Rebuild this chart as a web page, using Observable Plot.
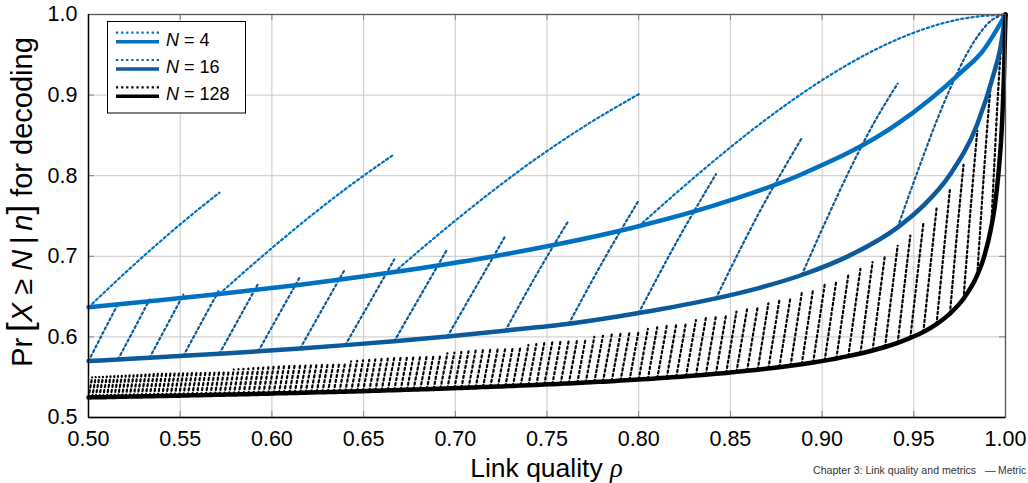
<!DOCTYPE html>
<html>
<head>
<meta charset="utf-8">
<script src="https://cdn.jsdelivr.net/npm/d3@7"></script>
<script src="https://cdn.jsdelivr.net/npm/@observablehq/plot@0.6"></script>
<style>
  html, body { margin: 0; padding: 0; background: #fff; overflow: hidden; }
  #chart { width: 1028px; height: 483px; overflow: hidden; }
</style>
</head>
<body>
<div id="chart"></div>
<script>
// Axis ticks
const xTicks = [0.50, 0.55, 0.60, 0.65, 0.70, 0.75, 0.80, 0.85, 0.90, 0.95, 1.00];
const yTicks = [0.5, 0.6, 0.7, 0.8, 0.9, 1.0];

// Pr[X >= N | n] with n = ceil(N / rho) transmissions.
// Each dotted segment runs between two consecutive boundaries rho = N/n and N/(n-1);
// its first value lies on the smooth (solid) curve.

// ---------- N = 4 ----------
const rhoN4 = [0.5, 0.5714, 0.6667, 0.8, 1.0];
const startN4 = [0.6367, 0.6533, 0.6804, 0.7373];
const endN4 = [0.7790, 0.8267, 0.9011, 1.0];
const innerN4Seg = [0, 0, 0, 1, 1, 1, 1, 2, 2, 2, 3, 3, 3, 3, 3, 3, 3];
const innerN4Rho = [0.52, 0.54, 0.56, 0.585, 0.60, 0.62, 0.64, 0.70, 0.7333, 0.7667, 0.825, 0.85, 0.875, 0.90, 0.925, 0.95, 0.975];
const innerN4Pr = [0.6795, 0.7202, 0.7584, 0.6808, 0.7102, 0.7479, 0.7833, 0.7443, 0.8034, 0.8560, 0.7875, 0.8352, 0.8793, 0.9185, 0.9517, 0.9774, 0.9941];
const curveN4Rho = [0.5333, 0.6154, 0.7273, 0.8421, 0.8889, 0.9412, 0.9756, 0.9877, 1.0];
const curveN4Pr = [0.6443, 0.6647, 0.7026, 0.7638, 0.8018, 0.8645, 0.9280, 0.9550, 1.0];

// ---------- N = 16 ----------
const rhoN16 = [0.5, 0.5161, 0.5333, 0.5517, 0.5714, 0.5926, 0.6154, 0.64, 0.6667, 0.6957, 0.7273, 0.7619, 0.8, 0.8421, 0.8889, 0.9412, 1.0];
const startN16 = [0.5700, 0.5720, 0.5741, 0.5765, 0.5792, 0.5822, 0.5857, 0.5898, 0.5946, 0.6005, 0.6078, 0.6163, 0.6296, 0.6478, 0.6768, 0.7359];
const endN16 = [0.6410, 0.6463, 0.6523, 0.6589, 0.6664, 0.6749, 0.6847, 0.6960, 0.7093, 0.7253, 0.7448, 0.7693, 0.8018, 0.8467, 0.9143, 1.0];
const innerN16Seg = [0, 10, 11, 12, 13, 14, 14, 14, 15, 15, 15, 15, 15, 15, 15];
const innerN16Rho = [0.5081, 0.7446, 0.7810, 0.8211, 0.8655, 0.9020, 0.9150, 0.9281, 0.9485, 0.9559, 0.9632, 0.9706, 0.9779, 0.9853, 0.9926];
const innerN16Pr = [0.6060, 0.6785, 0.6958, 0.7195, 0.7534, 0.7436, 0.8070, 0.8648, 0.7828, 0.8288, 0.8723, 0.9121, 0.9468, 0.9746, 0.9932];
const curveN16Rho = [0.8649, 0.9143, 0.9552, 0.9697, 0.9846, 0.9938, 0.9969, 1.0];
const curveN16Pr = [0.6603, 0.7002, 0.7628, 0.8013, 0.8639, 0.9279, 0.9550, 1.0];

// ---------- N = 128 ----------
const rhoN128 = [
  0.5000, 0.5020, 0.5039, 0.5059, 0.5079, 0.5100, 0.5120, 0.5141, 0.5161, 0.5182,
  0.5203, 0.5224, 0.5246, 0.5267, 0.5289, 0.5311, 0.5333, 0.5356, 0.5378, 0.5401,
  0.5424, 0.5447, 0.5470, 0.5494, 0.5517, 0.5541, 0.5565, 0.5590, 0.5614, 0.5639,
  0.5664, 0.5689, 0.5714, 0.5740, 0.5766, 0.5792, 0.5818, 0.5845, 0.5872, 0.5899,
  0.5926, 0.5953, 0.5981, 0.6009, 0.6038, 0.6066, 0.6095, 0.6124, 0.6154, 0.6184,
  0.6214, 0.6244, 0.6275, 0.6305, 0.6337, 0.6368, 0.6400, 0.6432, 0.6465, 0.6497,
  0.6531, 0.6564, 0.6598, 0.6632, 0.6667, 0.6702, 0.6737, 0.6772, 0.6809, 0.6845,
  0.6882, 0.6919, 0.6957, 0.6995, 0.7033, 0.7072, 0.7111, 0.7151, 0.7191, 0.7232,
  0.7273, 0.7314, 0.7356, 0.7399, 0.7442, 0.7485, 0.7529, 0.7574, 0.7619, 0.7665,
  0.7711, 0.7758, 0.7805, 0.7853, 0.7901, 0.7950, 0.8000, 0.8050, 0.8101, 0.8153,
  0.8205, 0.8258, 0.8312, 0.8366, 0.8421, 0.8477, 0.8533, 0.8591, 0.8649, 0.8707,
  0.8767, 0.8828, 0.8889, 0.8951, 0.9014, 0.9078, 0.9143, 0.9209, 0.9275, 0.9343,
  0.9412, 0.9481, 0.9552, 0.9624, 0.9697, 0.9771, 0.9846, 0.9922, 1.0000
];
const startN128 = [
  0.5249, 0.5250, 0.5251, 0.5252, 0.5252, 0.5253, 0.5254, 0.5255, 0.5256, 0.5257,
  0.5258, 0.5259, 0.5260, 0.5261, 0.5262, 0.5263, 0.5264, 0.5265, 0.5266, 0.5267,
  0.5268, 0.5269, 0.5270, 0.5271, 0.5273, 0.5274, 0.5275, 0.5276, 0.5277, 0.5278,
  0.5280, 0.5281, 0.5282, 0.5283, 0.5285, 0.5286, 0.5287, 0.5289, 0.5290, 0.5292,
  0.5293, 0.5295, 0.5296, 0.5298, 0.5300, 0.5301, 0.5303, 0.5304, 0.5306, 0.5308,
  0.5310, 0.5312, 0.5313, 0.5315, 0.5317, 0.5319, 0.5321, 0.5323, 0.5325, 0.5327,
  0.5330, 0.5332, 0.5334, 0.5337, 0.5339, 0.5341, 0.5344, 0.5346, 0.5349, 0.5352,
  0.5355, 0.5358, 0.5361, 0.5364, 0.5367, 0.5370, 0.5373, 0.5377, 0.5380, 0.5384,
  0.5388, 0.5392, 0.5396, 0.5400, 0.5404, 0.5409, 0.5413, 0.5418, 0.5423, 0.5428,
  0.5434, 0.5439, 0.5445, 0.5451, 0.5458, 0.5464, 0.5471, 0.5478, 0.5486, 0.5494,
  0.5503, 0.5511, 0.5521, 0.5531, 0.5542, 0.5553, 0.5566, 0.5579, 0.5593, 0.5608,
  0.5624, 0.5642, 0.5661, 0.5682, 0.5706, 0.5732, 0.5761, 0.5794, 0.5831, 0.5875,
  0.5926, 0.5988, 0.6060, 0.6158, 0.6289, 0.6473, 0.6766, 0.7357
];
const endN128 = [
  0.5498, 0.5500, 0.5503, 0.5505, 0.5508, 0.5510, 0.5513, 0.5515, 0.5518, 0.5520,
  0.5522, 0.5524, 0.5527, 0.5530, 0.5533, 0.5536, 0.5539, 0.5542, 0.5545, 0.5548,
  0.5551, 0.5554, 0.5557, 0.5560, 0.5563, 0.5566, 0.5569, 0.5572, 0.5576, 0.5579,
  0.5582, 0.5585, 0.5588, 0.5592, 0.5596, 0.5600, 0.5604, 0.5608, 0.5612, 0.5616,
  0.5620, 0.5624, 0.5628, 0.5632, 0.5636, 0.5641, 0.5646, 0.5651, 0.5656, 0.5661,
  0.5666, 0.5671, 0.5676, 0.5681, 0.5686, 0.5691, 0.5696, 0.5702, 0.5708, 0.5714,
  0.5720, 0.5726, 0.5732, 0.5739, 0.5746, 0.5753, 0.5760, 0.5767, 0.5774, 0.5781,
  0.5789, 0.5797, 0.5805, 0.5813, 0.5821, 0.5830, 0.5839, 0.5848, 0.5858, 0.5868,
  0.5878, 0.5889, 0.5900, 0.5911, 0.5923, 0.5935, 0.5947, 0.5960, 0.5973, 0.5986,
  0.6000, 0.6014, 0.6029, 0.6045, 0.6062, 0.6080, 0.6099, 0.6119, 0.6140, 0.6162,
  0.6185, 0.6208, 0.6232, 0.6258, 0.6285, 0.6314, 0.6345, 0.6379, 0.6416, 0.6456,
  0.6498, 0.6544, 0.6593, 0.6646, 0.6706, 0.6771, 0.6845, 0.6928, 0.7022, 0.7131,
  0.7258, 0.7409, 0.7592, 0.7827, 0.8134, 0.8556, 0.9190, 1.0000
];
const innerN128Seg = [124, 125, 126, 126, 126, 127, 127, 127];
const innerN128Rho = [0.9734, 0.9809, 0.9865, 0.9884, 0.9903, 0.9940, 0.9960, 0.9980];
const innerN128Pr = [0.7246, 0.7570, 0.7441, 0.8087, 0.8679, 0.8184, 0.9052, 0.9721];
const curveN128Rho = [0.9884, 0.9942, 0.9961, 0.9981, 0.9992, 1.0];
const curveN128Pr = [0.7000, 0.7627, 0.8013, 0.8639, 0.9279, 1.0];

// Series styles
const seriesNames = ["N = 4", "N = 16", "N = 128"];
const seriesColors = ["#0070c0", "#0b5a9b", "#000000"];

// Build the tables that the line marks draw
function segmentRows(series, rho, start, end, innerSeg, innerRho, innerPr) {
  const rows = [];
  start.forEach((p, i) => {
    rows.push({series, seg: i, rho: rho[i], pr: p});
    rows.push({series, seg: i, rho: rho[i + 1], pr: end[i]});
  });
  innerSeg.forEach((s, j) => rows.push({series, seg: s, rho: innerRho[j], pr: innerPr[j]}));
  return rows.sort((a, b) => a.seg - b.seg || a.rho - b.rho);
}
function curveRows(series, rho, start, extraRho, extraPr) {
  const rows = start.map((p, i) => ({series, rho: rho[i], pr: p}));
  extraRho.forEach((r, j) => rows.push({series, rho: r, pr: extraPr[j]}));
  return rows.sort((a, b) => a.rho - b.rho);
}

const dots4 = segmentRows("N = 4", rhoN4, startN4, endN4, innerN4Seg, innerN4Rho, innerN4Pr);
const dots16 = segmentRows("N = 16", rhoN16, startN16, endN16, innerN16Seg, innerN16Rho, innerN16Pr);
const dots128 = segmentRows("N = 128", rhoN128, startN128, endN128, innerN128Seg, innerN128Rho, innerN128Pr);
const line4 = curveRows("N = 4", rhoN4, startN4, curveN4Rho, curveN4Pr);
const line16 = curveRows("N = 16", rhoN16, startN16, curveN16Rho, curveN16Pr);
const line128 = curveRows("N = 128", rhoN128, startN128, curveN128Rho, curveN128Pr);

const W = 1028, H = 483;
const mL = 88, mR = 23, mT = 14, mB = 66;
const innerW = W - mL - mR, innerH = H - mT - mB;
const dash = "2.2,2.9";
const dotW = 2.2;

const plot = Plot.plot({
  width: W,
  height: H,
  marginLeft: mL,
  marginRight: mR,
  marginTop: mT,
  marginBottom: mB,
  x: {domain: [0.5, 1.0]},
  y: {domain: [0.5, 1.0]},
  style: {fontFamily: "'Liberation Sans', Arial, Helvetica, sans-serif", background: "#fff", overflow: "hidden", color: "#000"},
  marks: [
    Plot.ruleX(xTicks.slice(1, -1), {x: d => d, stroke: "#c8c8c8", strokeWidth: 1}),
    Plot.ruleY(yTicks.slice(1, -1), {y: d => d, stroke: "#c8c8c8", strokeWidth: 1}),
    Plot.tickX(xTicks, {x: d => d, insetTop: innerH - 6, stroke: "#808080"}),
    Plot.tickX(xTicks, {x: d => d, insetBottom: innerH - 6, stroke: "#808080"}),
    Plot.tickY(yTicks, {y: d => d, insetRight: innerW - 6, stroke: "#808080"}),
    Plot.tickY(yTicks, {y: d => d, insetLeft: innerW - 6, stroke: "#808080"}),
    // dotted: fixed number of transmissions n
    Plot.line(dots128, {x: "rho", y: "pr", z: "seg", stroke: seriesColors[2], strokeWidth: dotW, strokeDasharray: dash, curve: "monotone-x"}),
    Plot.line(dots16, {x: "rho", y: "pr", z: "seg", stroke: seriesColors[1], strokeWidth: dotW, strokeDasharray: dash, curve: "monotone-x"}),
    Plot.line(dots4, {x: "rho", y: "pr", z: "seg", stroke: seriesColors[0], strokeWidth: dotW, strokeDasharray: dash, curve: "monotone-x"}),
    // solid: n = N / rho
    Plot.line(line4, {x: "rho", y: "pr", stroke: seriesColors[0], strokeWidth: 4.5, curve: "monotone-x"}),
    Plot.line(line16, {x: "rho", y: "pr", stroke: seriesColors[1], strokeWidth: 4.5, curve: "monotone-x"}),
    Plot.line(line128, {x: "rho", y: "pr", stroke: seriesColors[2], strokeWidth: 4.5, curve: "monotone-x"}),
    Plot.frame({stroke: "#555", strokeWidth: 1.3}),
    Plot.ruleX([0.5], {stroke: "#000", strokeWidth: 1.4}),
    Plot.ruleY([0.5], {stroke: "#000", strokeWidth: 1.4}),
    Plot.axisX({ticks: xTicks, tickFormat: d3.format(".2f"), tickSize: 0, tickPadding: 13, fontSize: 21.5, label: null}),
    Plot.axisY({ticks: yTicks, tickFormat: d3.format(".1f"), tickSize: 0, tickPadding: 11, fontSize: 21.5, label: null})
  ]
});

document.getElementById("chart").appendChild(plot);
const svg = d3.select(plot);

// Axis titles
const xl = svg.append("text")
  .attr("x", mL + innerW / 2).attr("y", 477)
  .attr("text-anchor", "middle").attr("font-size", 26.5).attr("fill", "#000");
xl.append("tspan").text("Link quality ");
xl.append("tspan").attr("font-family", "'Liberation Serif', 'DejaVu Serif', serif").attr("font-style", "italic").text("ρ");

const yl = svg.append("text")
  .attr("transform", "translate(32,202) rotate(-90)")
  .attr("text-anchor", "middle").attr("font-size", 29).attr("fill", "#000");
yl.append("tspan").text("Pr\u2009");
yl.append("tspan").attr("font-size", 35).text("[");
yl.append("tspan").attr("font-style", "italic").text("X");
yl.append("tspan").text(" ≥ ");
yl.append("tspan").attr("font-style", "italic").text("N");
yl.append("tspan").text("\u2009|\u2009");
yl.append("tspan").attr("font-style", "italic").text("n");
yl.append("tspan").attr("font-size", 35).text("]");
yl.append("tspan").text(" for decoding");

// Legend
const lg = svg.append("g");
lg.append("rect").attr("x", 107.5).attr("y", 21.5).attr("width", 138).attr("height", 91.5)
  .attr("fill", "#fff").attr("stroke", "#000").attr("stroke-width", 1);
seriesNames.forEach((name, i) => {
  const y0 = 32.7 + i * 27.3;
  lg.append("line").attr("x1", 116).attr("x2", 159).attr("y1", y0).attr("y2", y0)
    .attr("stroke", seriesColors[i]).attr("stroke-width", dotW).attr("stroke-dasharray", dash);
  lg.append("line").attr("x1", 116).attr("x2", 159).attr("y1", y0 + 9).attr("y2", y0 + 9)
    .attr("stroke", seriesColors[i]).attr("stroke-width", 3.5);
  const t = lg.append("text").attr("x", 166).attr("y", y0 + 13).attr("text-anchor", "start")
    .attr("font-size", 18).attr("fill", "#000");
  t.append("tspan").attr("font-style", "italic").text("N");
  t.append("tspan").text(name.slice(1));
});

// Running footer
const ft = svg.append("text").attr("y", 474).attr("text-anchor", "start")
  .attr("font-size", 10.6).attr("fill", "#333");
ft.append("tspan").attr("x", 813).text("Chapter 3: Link quality and metrics");
ft.append("tspan").attr("x", 985).text("\u2014");
ft.append("tspan").attr("x", 998).attr("font-size", 10.4).text("Metric");
</script>
</body>
</html>
